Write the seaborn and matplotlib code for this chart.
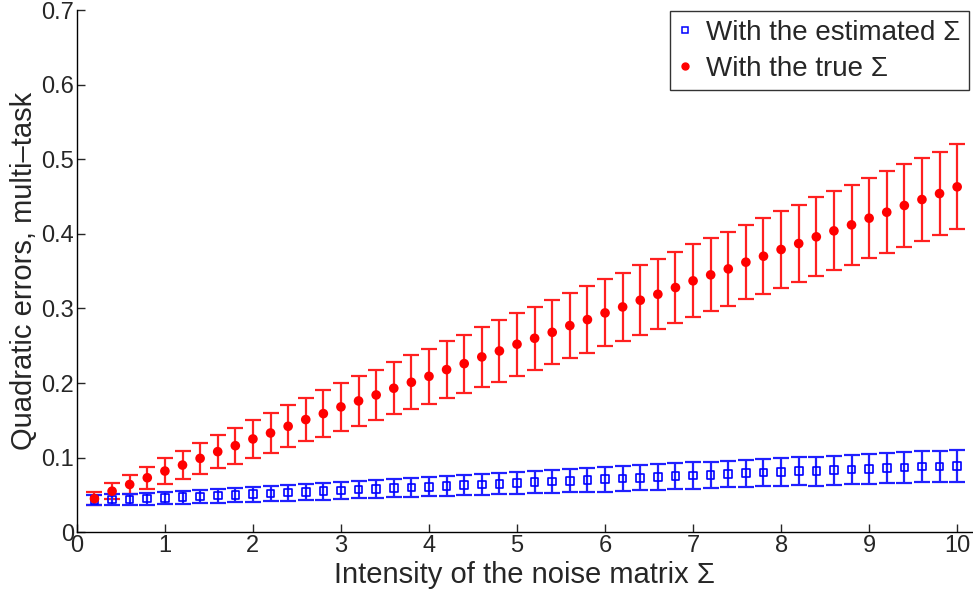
import numpy as np
import pandas as pd
import seaborn as sns
import matplotlib.pyplot as plt

# noise intensity (x axis)
noise = [0.2, 0.4, 0.6, 0.8, 1.0, 1.2, 1.4, 1.6, 1.8, 2.0,
         2.2, 2.4, 2.6, 2.8, 3.0, 3.2, 3.4, 3.6, 3.8, 4.0,
         4.2, 4.4, 4.6, 4.8, 5.0, 5.2, 5.4, 5.6, 5.8, 6.0,
         6.2, 6.4, 6.6, 6.8, 7.0, 7.2, 7.4, 7.6, 7.8, 8.0,
         8.2, 8.4, 8.6, 8.8, 9.0, 9.2, 9.4, 9.6, 9.8, 10.0]

# with the estimated Sigma
est_mean = [0.043, 0.044, 0.044, 0.045, 0.046, 0.047, 0.048, 0.049, 0.050, 0.051,
            0.052, 0.053, 0.054, 0.055, 0.056, 0.057, 0.058, 0.059, 0.060, 0.061,
            0.062, 0.063, 0.064, 0.065, 0.066, 0.067, 0.068, 0.069, 0.070, 0.071,
            0.072, 0.073, 0.074, 0.075, 0.076, 0.077, 0.078, 0.079, 0.080, 0.081,
            0.082, 0.082, 0.083, 0.084, 0.085, 0.086, 0.087, 0.088, 0.088, 0.089]
est_err = [0.0070, 0.0073, 0.0076, 0.0080, 0.0085, 0.0088, 0.0091, 0.0094, 0.0097, 0.0100,
           0.0103, 0.0106, 0.0109, 0.0112, 0.0115, 0.0118, 0.0121, 0.0124, 0.0127, 0.0130,
           0.0133, 0.0136, 0.0139, 0.0142, 0.0145, 0.0148, 0.0151, 0.0154, 0.0158, 0.0165,
           0.0167, 0.0169, 0.0171, 0.0173, 0.0175, 0.0177, 0.0179, 0.0181, 0.0184, 0.0190,
           0.0192, 0.0194, 0.0196, 0.0198, 0.0201, 0.0204, 0.0207, 0.0210, 0.0212, 0.0215]

# with the true Sigma
true_mean = [0.045, 0.055, 0.064, 0.073, 0.082, 0.090, 0.099, 0.108, 0.116, 0.125,
             0.133, 0.142, 0.151, 0.159, 0.168, 0.176, 0.184, 0.193, 0.201, 0.209,
             0.218, 0.226, 0.235, 0.243, 0.252, 0.260, 0.268, 0.277, 0.285, 0.294,
             0.302, 0.311, 0.319, 0.328, 0.337, 0.345, 0.353, 0.362, 0.370, 0.379,
             0.387, 0.396, 0.404, 0.412, 0.421, 0.429, 0.438, 0.446, 0.454, 0.463]
true_err = [0.0085, 0.011, 0.013, 0.015, 0.017, 0.019, 0.021, 0.022, 0.024, 0.025,
            0.027, 0.028, 0.029, 0.031, 0.032, 0.033, 0.034, 0.035, 0.036, 0.037,
            0.038, 0.039, 0.040, 0.041, 0.042, 0.042, 0.043, 0.044, 0.045, 0.045,
            0.046, 0.047, 0.047, 0.048, 0.049, 0.049, 0.050, 0.050, 0.051, 0.052,
            0.052, 0.053, 0.053, 0.054, 0.054, 0.055, 0.055, 0.056, 0.056, 0.057]

yticks = [0, 0.1, 0.2, 0.3, 0.4, 0.5, 0.6, 0.7]
ytick_labels = ['0', '0.1', '0.2', '0.3', '0.4', '0.5', '0.6', '0.7']
xticks = [0, 1, 2, 3, 4, 5, 6, 7, 8, 9, 10]

sns.set_style("ticks")
plt.rcParams['font.family'] = ['Liberation Sans', 'DejaVu Sans']

df = pd.DataFrame({'x': noise + noise,
                   'y': est_mean + true_mean,
                   'kind': ['With the estimated Σ'] * len(noise) + ['With the true Σ'] * len(noise)})

fig = plt.figure(figsize=(9.73, 5.92), dpi=100)
ax = fig.add_axes([0.079, 0.101, 0.921, 0.882])

ax.errorbar(noise, true_mean, yerr=true_err, fmt='none', ecolor='#ff2020',
            elinewidth=1.6, capsize=6, capthick=1.6, zorder=2)
ax.errorbar(noise, est_mean, yerr=est_err, fmt='none', ecolor='#2020ff',
            elinewidth=1.6, capsize=6, capthick=1.6, zorder=2)

sns.scatterplot(data=df, x='x', y='y', hue='kind', style='kind',
                palette={'With the estimated Σ': 'blue', 'With the true Σ': 'red'},
                markers={'With the estimated Σ': 's', 'With the true Σ': 'o'},
                s=40, ax=ax, zorder=3, legend=False)
# open blue squares, filled red dots
pts = ax.collections[-1]
n = len(noise)
pts.set_facecolors([(0, 0, 0, 0)] * n + [(1, 0, 0, 1)] * n)
pts.set_edgecolors([(0, 0, 1, 1)] * n + [(1, 0, 0, 1)] * n)
pts.set_linewidths([1.2] * n + [0] * n)
pts.set_sizes([30] * n + [48] * n)

h1 = plt.Line2D([], [], marker='s', color='none', markeredgecolor='blue',
                markerfacecolor='none', markersize=5, markeredgewidth=1.1)
h2 = plt.Line2D([], [], marker='o', color='none', markeredgecolor='red',
                markerfacecolor='red', markersize=5)
leg = ax.legend([h1, h2], ['With the estimated Σ', 'With the true Σ'],
                loc='upper right', bbox_to_anchor=(0.997, 1.0), fontsize=20,
                frameon=True, fancybox=False, edgecolor='black',
                handlelength=0.5, handletextpad=0.5, borderpad=0.3,
                labelspacing=0.35, borderaxespad=0.05)
leg.get_frame().set_linewidth(1.0)

ax.set_xlim(0, 10.18)
ax.set_ylim(0, 0.7)
ax.set_xticks(xticks)
ax.set_xticklabels([str(v) for v in xticks])
ax.set_yticks(yticks)
ax.set_yticklabels(ytick_labels)
ax.tick_params(direction='in', labelsize=17, length=6, width=1, pad=2)
ax.set_xlabel('Intensity of the noise matrix Σ', fontsize=21, labelpad=3)
ax.set_ylabel('Quadratic errors, multi–task', fontsize=21, labelpad=2)
sns.despine(ax=ax)
for s in ['left', 'bottom']:
    ax.spines[s].set_linewidth(1.0)
    ax.spines[s].set_color('black')

fig.savefig('out.png', dpi=100)
